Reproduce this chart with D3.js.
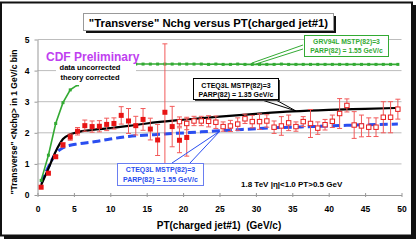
<!DOCTYPE html>
<html><head><meta charset="utf-8">
<script src="https://cdn.jsdelivr.net/npm/d3@7"></script>
<style>
html,body{margin:0;padding:0;background:#fff;}
svg{display:block;}
text{font-family:Arial,"Liberation Sans",sans-serif;font-weight:bold;}
</style></head>
<body>
<script>
// ---------- data ----------
const xTicks = [0,5,10,15,20,25,30,35,40,45,50];
const yTicks = [0,1,2,3,4,5];

// filled red squares (data, lower PT sample)
const dataAX = [0.5,1.5,2.5,3.5,4.5,5.5,6.5,7.5,8.5,9.5,10.5,11.5,12.5,13.5,14.5,15.5,16.5,17.5,18.5,19.5,20.5];
const dataAY = [0.25,0.70,1.23,1.61,1.86,2.05,2.23,2.20,2.21,2.27,2.30,2.56,2.38,2.23,2.43,2.12,1.77,2.66,2.20,1.76,1.85];
const dataAE = [0,0,0.04,0.07,0.10,0.12,0.18,0.18,0.18,0.20,0.18,0.28,0.40,0.30,0.35,0.35,0.50,2.20,0.65,0.40,0.60];

// open red squares (data, higher PT sample)
const dataBX = [19.5,20.5,21.5,22.5,23.5,24.5,25.5,26.5,27.5,28.5,29.5,30.5,31.5,32.5,33.5,34.5,35.5,36.5,37.5,38.5,39.5,40.5,41.5,42.5,43.5,44.5,45.5,46.5,47.5,48.5,49.5];
const dataBY = [2.36,2.30,2.38,2.38,2.37,2.34,2.20,2.22,2.28,2.45,2.36,2.36,2.38,2.18,2.22,2.32,2.20,2.36,2.30,2.15,2.26,2.37,2.62,2.88,2.25,2.22,2.18,2.18,2.50,2.50,2.76];
const dataBE = [0.15,0.20,0.15,0.15,0.18,0.20,0.15,0.18,0.20,0.15,0.20,0.25,0.20,0.20,0.30,0.25,0.15,0.16,0.45,0.20,0.17,0.20,0.48,0.21,0.43,0.35,0.30,0.30,0.50,0.50,0.32];

// theory: CTEQ3L PARP(82)=1.35 (black)
const cteq135X = [0.5,1.5,2.5,3.5,4.5,5.5,7.5,10,12.5,15,20,25,30,35,40,45,49.5];
const cteq135Y = [0.32,0.85,1.40,1.80,1.95,2.02,2.09,2.15,2.22,2.30,2.42,2.52,2.61,2.69,2.74,2.77,2.80];

// theory: CTEQ3L PARP(82)=1.55 (blue dashed)
const cteq155X = [0.5,1.5,2.5,3.5,4.5,5.5,8,10,12.5,17.5,22.5,27.5,32.5,37.5,42.5,49.5];
const cteq155Y = [0.40,0.90,1.33,1.52,1.60,1.64,1.72,1.80,1.88,1.96,2.03,2.10,2.16,2.20,2.24,2.28];

// theory: GRV94L PARP(82)=1.55 (green), null = hidden by label
const grvX = [0.5,1.5,2.5,3.5,4.5,5.5,6.5,7.5,8.5,9.5,10.5,11.5,12.5,13.5,14.5,15.5,16.5,17.5,18.5,19.5,20.5,21.5,22.5,23.5,24.5,25.5,26.5,27.5,28.5,29.5,30.5,31.5,32.5,33.5,34.5,35.5,36.5,37.5,38.5,39.5,40.5,41.5,42.5,43.5,44.5,45.5,46.5,47.5,48.5,49.5];
const grvY = [0.47,1.28,2.30,2.97,3.38,3.54,null,null,null,null,null,null,null,4.21,4.21,4.21,4.21,4.21,4.21,4.21,4.21,4.21,4.21,4.20,4.21,4.20,4.20,4.21,4.20,4.20,4.20,4.20,4.20,4.21,4.20,4.20,4.20,4.20,4.20,4.20,4.20,4.20,4.20,4.20,4.20,4.20,4.20,4.20,4.20,4.20];

// ---------- layout ----------
const W = 418, H = 241;
const svg = d3.select("body").append("svg").attr("width", W).attr("height", H);

// outer frame with shadow
svg.append("rect").attr("x",4).attr("y",5).attr("width",412).attr("height",234).attr("fill","#111");
svg.append("rect").attr("x",1).attr("y",2.5).attr("width",411).attr("height",233).attr("fill","#fff").attr("stroke","#111").attr("stroke-width",2);

const x = d3.scaleLinear().domain([0,50]).range([37.5,401.5]);
const y = d3.scaleLinear().domain([0,5]).range([195,39.5]);

// grid
svg.append("g").selectAll("line").data(yTicks.slice(1)).join("line")
  .attr("x1", x(0)).attr("x2", x(50)).attr("y1", d=>y(d)).attr("y2", d=>y(d))
  .attr("stroke","#bdbdbd").attr("stroke-width",1);

// x axis
const xAxis = d3.axisBottom(x).tickValues(xTicks).tickFormat(d3.format("d")).tickSize(2).tickPadding(9).tickSizeOuter(0);
const gx = svg.append("g").attr("transform",`translate(0,${y(0)})`).call(xAxis);
gx.select(".domain").attr("stroke","#999");
gx.selectAll(".tick line").attr("stroke","#999").attr("y1",-2).attr("y2",2);
gx.selectAll("text").attr("font-size",8.5).attr("fill","#000").attr("font-family",'Arial,"Liberation Sans",sans-serif').attr("font-weight","bold");

// y axis
const yAxis = d3.axisLeft(y).tickValues(yTicks).tickFormat(d3.format("d")).tickSize(3).tickPadding(5).tickSizeOuter(0);
const gy = svg.append("g").attr("transform",`translate(${x(0)},0)`).call(yAxis);
gy.select(".domain").attr("stroke","#999");
gy.selectAll(".tick line").attr("stroke","#999");
gy.selectAll("text").attr("font-size",8.5).attr("fill","#000").attr("font-family",'Arial,"Liberation Sans",sans-serif').attr("font-weight","bold");

// axis titles
svg.append("text").attr("x", 219).attr("y", 229).attr("text-anchor","middle")
  .style("white-space","pre").attr("font-size",10).text("PT(charged jet#1)  (GeV/c)");
svg.append("text").attr("transform","translate(17,122) rotate(-90)").attr("text-anchor","middle")
  .attr("font-size",8.5).text('"Transverse" <Nchg> in 1 GeV/c bin');

// ---------- theory curves ----------
const cteq135 = cteq135X.map((v,i)=>[v,cteq135Y[i]]);
const cteq155 = cteq155X.map((v,i)=>[v,cteq155Y[i]]);
const grv = grvX.map((v,i)=>[v,grvY[i]]);
const smooth = d3.line().x(d=>x(d[0])).y(d=>y(d[1])).curve(d3.curveMonotoneX);

svg.append("path").datum(cteq155).attr("fill","none").attr("stroke","#2a4ef0")
  .attr("stroke-width",3).attr("stroke-dasharray","8,4").attr("d", smooth);
svg.append("path").datum(cteq135).attr("fill","none").attr("stroke","#000")
  .attr("stroke-width",2.2).attr("d", smooth);

const grvLine = d3.line().defined(d=>d[1]!==null).x(d=>x(d[0])).y(d=>y(d[1]));
svg.append("path").datum(grv).attr("fill","none").attr("stroke","#33aa33").attr("stroke-width",1.6).attr("d", grvLine);
svg.append("g").selectAll("rect").data(grv.filter(d=>d[1]!==null)).join("rect")
  .attr("x", d=>x(d[0])-1.5).attr("y", d=>y(d[1])-1.5).attr("width",3).attr("height",3).attr("fill","#33aa33");

// ---------- data ----------
const errColor = "#f25a5a";
function drawErr(X, Y, E){
  const g = svg.append("g").attr("stroke", errColor).attr("stroke-width",1);
  X.forEach((v,i)=>{
    if(E[i] <= 0) return;
    const cx = x(v), t = y(Y[i]+E[i]), b = y(Y[i]-E[i]);
    g.append("line").attr("x1",cx).attr("x2",cx).attr("y1",t).attr("y2",b);
    g.append("line").attr("x1",cx-2.5).attr("x2",cx+2.5).attr("y1",t).attr("y2",t);
    g.append("line").attr("x1",cx-2.5).attr("x2",cx+2.5).attr("y1",b).attr("y2",b);
  });
}
drawErr(dataAX, dataAY, dataAE);
drawErr(dataBX, dataBY, dataBE);

svg.append("g").selectAll("rect").data(dataBX).join("rect")
  .attr("x",(d)=>x(d)-2.2).attr("y",(d,i)=>y(dataBY[i])-2.2).attr("width",4.4).attr("height",4.4)
  .attr("fill","#fff").attr("stroke","#e81e1e").attr("stroke-width",1);
svg.append("g").selectAll("rect").data(dataAX).join("rect")
  .attr("x",(d)=>x(d)-2.5).attr("y",(d,i)=>y(dataAY[i])-2.5).attr("width",5).attr("height",5)
  .attr("fill","#e81414");

// ---------- annotations ----------
svg.append("rect").attr("x",56).attr("y",61).attr("width",80).attr("height",24).attr("fill","#fff");
svg.append("text").attr("x",90).attr("y",70).attr("text-anchor","middle").attr("font-size",7.5).text("data uncorrected");
svg.append("text").attr("x",90).attr("y",80).attr("text-anchor","middle").attr("font-size",7.5).text("theory corrected");
svg.append("text").attr("x",46).attr("y",60.5).attr("font-size",12).attr("fill","#c040f0").text("CDF Preliminary");

svg.append("text").attr("x",241).attr("y",186.5).attr("font-size",8).text("1.8 TeV |η|<1.0 PT>0.5 GeV");

// green callout
svg.append("path").attr("d","M303,45 L252,63 M303,49 L256,64").attr("stroke","#33aa33").attr("stroke-width",1).attr("fill","none");
svg.append("rect").attr("x",304.5).attr("y",35.5).attr("width",84).attr("height",21).attr("fill","#fff").attr("stroke","#33aa33");
svg.append("text").attr("x",346.5).attr("y",44).attr("text-anchor","middle").attr("font-size",6.8).attr("fill","#33aa33").text("GRV94L MSTP(82)=3");
svg.append("text").attr("x",346.5).attr("y",53).attr("text-anchor","middle").attr("font-size",6.8).attr("fill","#33aa33").text("PARP(82) = 1.55 GeV/c");

// black callout
svg.append("path").attr("d","M262,100 L296,111 M276,100 L296,111").attr("stroke","#000").attr("stroke-width",1).attr("fill","none");
svg.append("rect").attr("x",195).attr("y",80).attr("width",85).attr("height",21).attr("fill","#444");
svg.append("rect").attr("x",193.5).attr("y",78.5).attr("width",85).attr("height",21).attr("fill","#fff").attr("stroke","#000");
svg.append("text").attr("x",236).attr("y",87.5).attr("text-anchor","middle").attr("font-size",7).text("CTEQ3L MSTP(82)=3");
svg.append("text").attr("x",236).attr("y",96.5).attr("text-anchor","middle").attr("font-size",7).text("PARP(82) = 1.35 GeV/c");

// blue callout
svg.append("path").attr("d","M172,163 L220,131 M190,163 L220,131").attr("stroke","#2a4ef0").attr("stroke-width",1).attr("fill","none");
svg.append("rect").attr("x",117.5).attr("y",163.5).attr("width",86).attr("height",22).attr("fill","#fff").attr("stroke","#6a7ef0");
svg.append("text").attr("x",160.5).attr("y",172).attr("text-anchor","middle").attr("font-size",7).attr("fill","#2a4ef0").text("CTEQ3L MSTP(82)=3");
svg.append("text").attr("x",160.5).attr("y",181.5).attr("text-anchor","middle").attr("font-size",7).attr("fill","#2a4ef0").text("PARP(82) = 1.55 GeV/c");

// title box
svg.append("rect").attr("x",86).attr("y",16).attr("width",250).attr("height",17).attr("fill","#111");
svg.append("rect").attr("x",83.5).attr("y",13.5).attr("width",250).attr("height",17).attr("fill","#fff").attr("stroke","#999");
svg.append("text").attr("x",208.5).attr("y",26.5).attr("text-anchor","middle").attr("font-size",11.3).text('"Transverse" Nchg versus PT(charged jet#1)');
</script>
</body></html>
